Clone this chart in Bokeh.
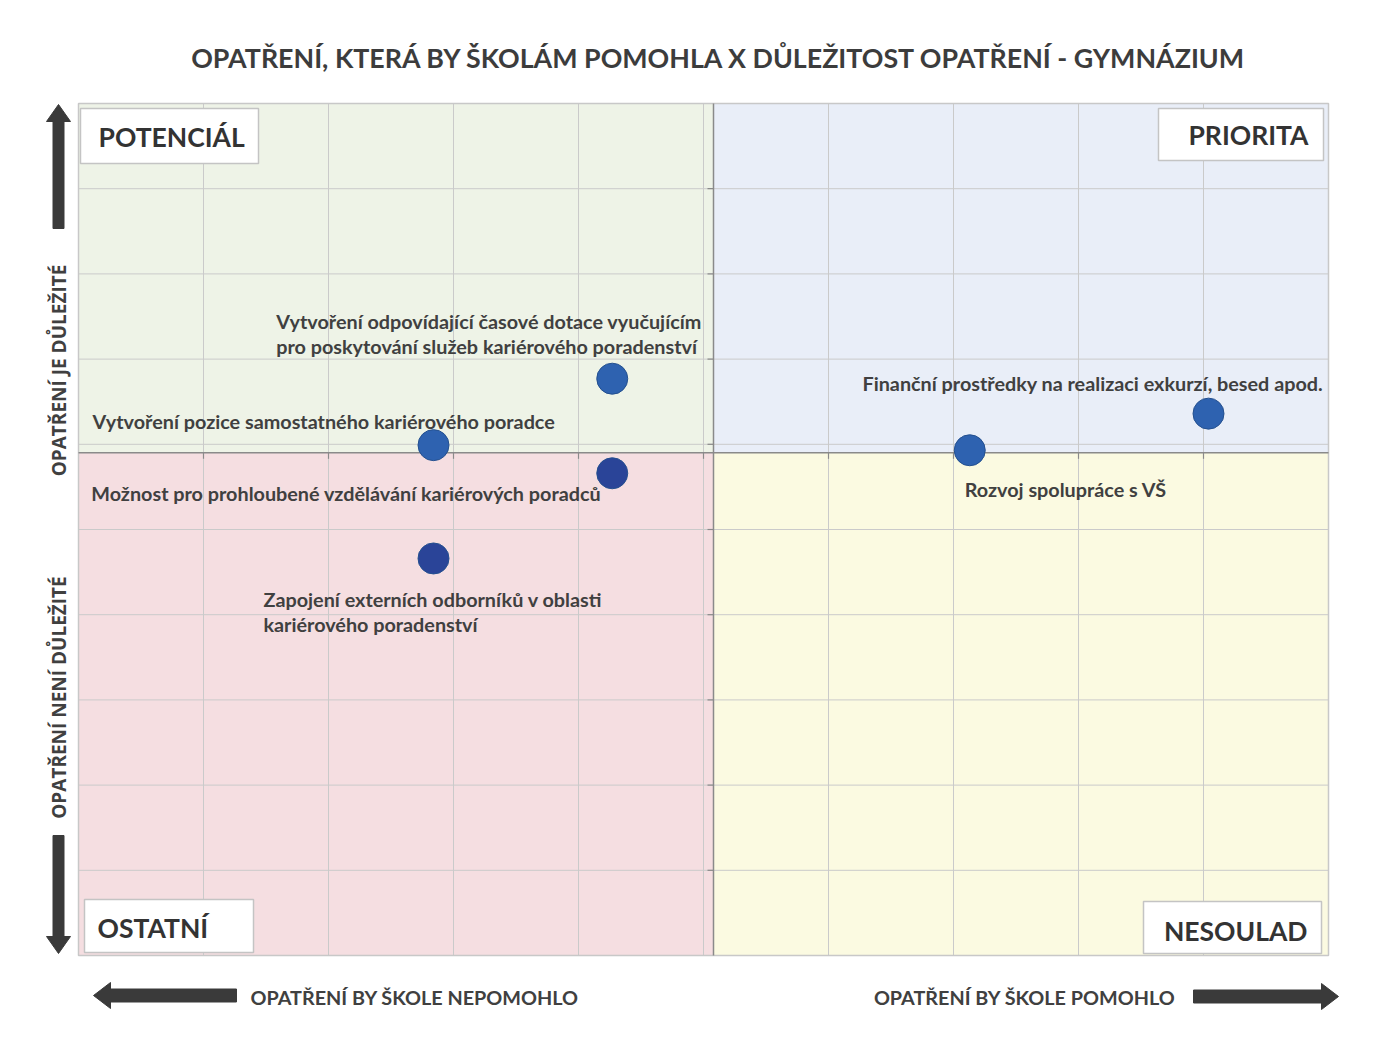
import math
from bokeh.plotting import figure
from bokeh.models import ColumnDataSource, Range1d
from bokeh.core.properties import value
from bokeh.embed import file_html
from bokeh.resources import INLINE

# ---------------- data ----------------
labels = [
    "Vytvoření odpovídající časové dotace vyučujícím\npro poskytování služeb kariérového poradenství",
    "Vytvoření pozice samostatného kariérového poradce",
    "Možnost pro prohloubené vzdělávání kariérových poradců",
    "Zapojení externích odborníků v oblasti\nkariérového poradenství",
    "Finanční prostředky na realizaci exkurzí, besed apod.",
    "Rozvoj spolupráce s VŠ",
]
helps = [4.27, 2.84, 4.27, 2.84, 9.04, 7.13]          # opatření by škole pomohlo
importance = [6.77, 5.99, 5.66, 4.66, 6.36, 5.93]    # důležitost opatření

x_ticks = [1, 2, 3, 4, 5, 6, 7, 8, 9]
y_ticks = [1, 2, 3, 4, 5, 6, 7, 8, 9]
X_MIN, X_MAX, Y_MIN, Y_MAX = 0, 10, 0, 10
X_MID, Y_MID = 5.08, 5.9

title_text = "OPATŘENÍ, KTERÁ BY ŠKOLÁM POMOHLA X DŮLEŽITOST OPATŘENÍ - GYMNÁZIUM"
quadrant_names = ["POTENCIÁL", "PRIORITA", "OSTATNÍ", "NESOULAD"]
y_axis_texts = ["OPATŘENÍ JE DŮLEŽITÉ", "OPATŘENÍ NENÍ DŮLEŽITÉ"]
x_axis_texts = ["OPATŘENÍ BY ŠKOLE NEPOMOHLO", "OPATŘENÍ BY ŠKOLE POMOHLO"]

# ---------------- layout helpers (page pixels -> data) ----------------
W, H = 1374, 1035
def dx(px):
    return (px - 78) / 125.0
def dy(py):
    return (955 - py) / 85.2

FONT = value("Lato")
FONT2 = value("Open Sans")
TXT = "#404040"

p = figure(width=W, height=H, output_backend="svg", toolbar_location=None,
           title=None, x_axis_location=None, y_axis_location=None,
           x_range=Range1d(dx(0), dx(W)), y_range=Range1d(dy(H), dy(0)),
           min_border=0, outline_line_color=None,
           background_fill_color="#FFFFFF", border_fill_color="#FFFFFF")
p.xgrid.visible = False
p.ygrid.visible = False

# quadrant backgrounds
p.quad(left=[X_MIN, X_MID, X_MIN, X_MID], right=[X_MID, X_MAX, X_MID, X_MAX],
       bottom=[Y_MID, Y_MID, Y_MIN, Y_MIN], top=[Y_MAX, Y_MAX, Y_MID, Y_MID],
       fill_color=["#EEF3E7", "#E9EEF8", "#F5DEE1", "#FBFAE1"], line_color=None)

# grid lines
p.segment(x0=x_ticks, x1=x_ticks, y0=[Y_MIN] * len(x_ticks), y1=[Y_MAX] * len(x_ticks),
          line_color="#CACACA", line_width=1)
p.segment(x0=[X_MIN] * len(y_ticks), x1=[X_MAX] * len(y_ticks), y0=y_ticks, y1=y_ticks,
          line_color="#CACACA", line_width=1)
# outer frame
p.quad(left=[X_MIN], right=[X_MAX], bottom=[Y_MIN], top=[Y_MAX],
       fill_color=None, line_color="#C8C8C8", line_width=1.5)
# mid axes
p.segment(x0=[X_MID], x1=[X_MID], y0=[Y_MIN], y1=[Y_MAX], line_color="#8A8A8A", line_width=1.5)
p.segment(x0=[X_MIN], x1=[X_MAX], y0=[Y_MID], y1=[Y_MID], line_color="#8A8A8A", line_width=1.5)
# small tick marks on the mid axes
tick_w = 6 / 125.0
tick_h = 6 / 85.2
p.segment(x0=[X_MID - tick_w] * len(y_ticks), x1=[X_MID] * len(y_ticks), y0=y_ticks, y1=y_ticks,
          line_color="#8A8A8A", line_width=1.2)
p.segment(x0=x_ticks, x1=x_ticks, y0=[Y_MID - tick_h] * len(x_ticks), y1=[Y_MID] * len(x_ticks),
          line_color="#8A8A8A", line_width=1.2)

# quadrant name boxes (page pixel boxes)
boxes = [(80, 258, 108, 163), (1158, 1323, 108, 160), (84, 253, 899, 952), (1143, 1321, 901, 953)]
p.quad(left=[dx(b[0]) for b in boxes], right=[dx(b[1]) for b in boxes],
       top=[dy(b[2]) for b in boxes], bottom=[dy(b[3]) for b in boxes],
       fill_color="#FFFFFF", line_color="#C4C4C4", line_width=1.5)
q_pos = [(98, 136, "left"), (1308, 134, "right"), (97, 927, "left"), (1307, 930, "right")]
for name, (qx, qy, al) in zip(quadrant_names, q_pos):
    p.text(x=[dx(qx)], y=[dy(qy)], text=[name], text_align=al, text_baseline="middle",
           text_font=FONT, text_font_style="bold", text_font_size="26.5px", text_color="#333333")

# points
colors = ["#2E62B0", "#2E62B0", "#2A4498", "#2A4498", "#2E62B0", "#2E62B0"]
label_dx = [-336, -341, -521, -170, -346, -5]
label_dy = [-45, -24, 20, 53, -31, 39]
src = ColumnDataSource(dict(x=helps, y=importance, label=labels, color=colors,
                            ldx=label_dx, ldy=label_dy))
p.scatter(x="x", y="y", source=src, size=31, fill_color="color", line_color="#24508F",
          line_width=1)
p.text(x="x", y="y", text="label", x_offset="ldx", y_offset="ldy", source=src,
       text_align="left", text_baseline="middle", text_font=FONT, text_font_style="bold",
       text_font_size="19.8px", text_color=TXT, text_line_height=1.06)

# title
p.text(x=[dx(719)], y=[dy(57)], text=[title_text], text_align="center", text_baseline="middle",
       text_font=FONT, text_font_style="bold", text_font_size="26.8px", text_color="#3C3C3C")

# axis descriptions
p.text(x=[dx(58), dx(58)], y=[dy(370), dy(697)], text=y_axis_texts, angle=math.pi / 2,
       text_align="center", text_baseline="middle", text_font=FONT2, text_font_style="bold",
       text_font_size="19px", text_color=TXT)
p.text(x=[dx(250)], y=[dy(996)], text=[x_axis_texts[0]], text_align="left",
       text_baseline="middle", text_font=FONT, text_font_style="bold",
       text_font_size="19.8px", text_color=TXT)
p.text(x=[dx(1175)], y=[dy(996)], text=[x_axis_texts[1]], text_align="right",
       text_baseline="middle", text_font=FONT, text_font_style="bold",
       text_font_size="19.8px", text_color=TXT)

# arrows drawn as polygons (page pixels)
def arrow(x0, y0, x1, y1, shaft=11, head_w=24, head_l=17):
    L = math.hypot(x1 - x0, y1 - y0)
    ux, uy = (x1 - x0) / L, (y1 - y0) / L
    nx, ny = -uy, ux
    bx, by = x1 - ux * head_l, y1 - uy * head_l
    pts = [
        (x0 + nx * shaft / 2, y0 + ny * shaft / 2),
        (bx + nx * shaft / 2, by + ny * shaft / 2),
        (bx + nx * head_w / 2, by + ny * head_w / 2),
        (x1, y1),
        (bx - nx * head_w / 2, by - ny * head_w / 2),
        (bx - nx * shaft / 2, by - ny * shaft / 2),
        (x0 - nx * shaft / 2, y0 - ny * shaft / 2),
    ]
    return [dx(a) for a, _ in pts], [dy(b) for _, b in pts]

arrows = [arrow(58, 228, 58, 104), arrow(58, 835, 58, 953),
          arrow(236, 995, 93, 995, shaft=13, head_w=26), arrow(1193, 996, 1338, 996, shaft=13, head_w=26)]
p.patches(xs=[a[0] for a in arrows], ys=[a[1] for a in arrows],
          fill_color="#3A3A3A", line_color="#3A3A3A", line_width=1)

open("out.html", "w").write(file_html(p, INLINE))
